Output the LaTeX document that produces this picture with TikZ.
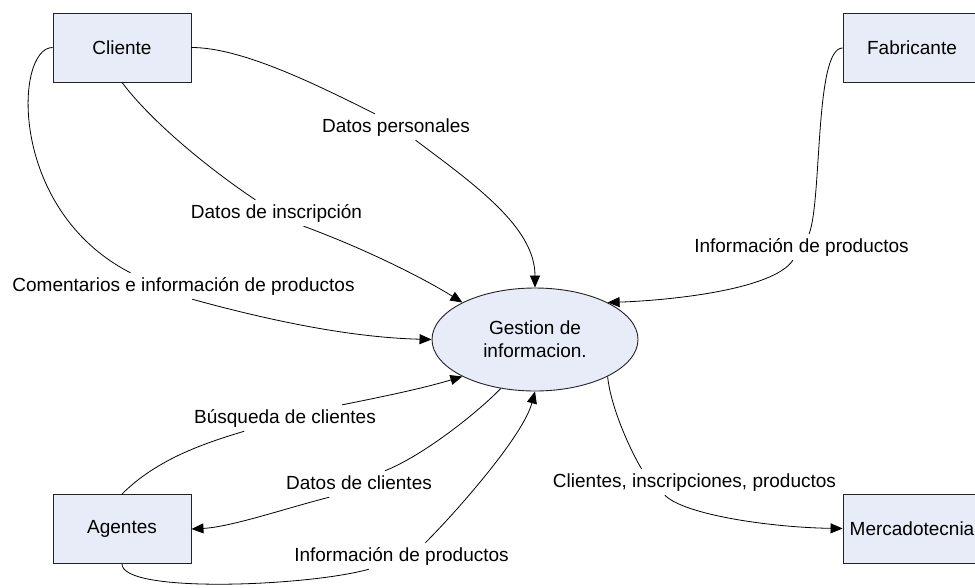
\documentclass[tikz,border=0pt]{standalone}
\usepackage{fontspec}
\setmainfont{Liberation Sans}
\usepackage{xcolor}
\usepackage{tikz}
\usetikzlibrary{shapes.geometric, arrows.meta}
\definecolor{paleblue}{RGB}{231, 236, 248}
\definecolor{darkline}{RGB}{35, 35, 35}

\begin{document}
\begin{tikzpicture}[
    x=1pt, y=-1pt,
    box/.style={rectangle, draw=darkline, fill=paleblue, line width=0.9pt, minimum width=138pt, minimum height=69pt, text centered, font=\fontsize{19}{23}\selectfont},
    process/.style={ellipse, draw=darkline, fill=paleblue, line width=0.9pt, minimum width=206pt, minimum height=103pt, inner sep=0pt, align=center, font=\fontsize{19}{23}\selectfont},
    flowlabel/.style={inner sep=4pt, text height=14pt, text depth=4pt, font=\fontsize{19}{23}\selectfont},
    line/.style={draw=black, line width=0.8pt},
    arrow/.style={line, -{Triangle[length=12pt, width=10pt]}}
]
\path[use as bounding box, clip] (0,0) rectangle (975,587);

% entities and process
\node[box] (cliente) at (122,47.5) {Cliente};
\node[box] (fabricante) at (912,48) {Fabricante};
\node[box] (agentes) at (122,529) {Agentes};
\node[box] (mercado) at (912,528.5) {Mercadotecnia};
\node[process] (gestion) at (535,339.5) {Gestion de\\informacion.};

% flow labels
\node[flowlabel] (lblpers) at (396,127) {Datos personales};
\node[flowlabel] (lblinsc) at (276.5,213) {Datos de inscripción};
\node[flowlabel] (lblcom) at (183.5,286) {Comentarios e información de productos};
\node[flowlabel] (lblfab) at (801.5,247) {Información de productos};
\node[flowlabel] (lblbus) at (285,418) {Búsqueda de clientes};
\node[flowlabel] (lbldcl) at (359,484) {Datos de clientes};
\node[flowlabel] (lblinfb) at (401.5,556) {Información de productos};
\node[flowlabel] (lblcip) at (694.5,482) {Clientes, inscripciones, productos};

% flows
\draw[line] (cliente.east) .. controls +(50,0) and +(-60,-30) .. (lblpers.148);
\draw[arrow] (lblpers.-34) .. controls +(60,45) and +(0,-60) .. (gestion.north);
\draw[line] (cliente.south) .. controls +(30,40) and +(-45,-30) .. (lblinsc.148);
\draw[arrow] (lblinsc.-26) .. controls +(60,22) and +(-40,-25) .. (gestion.153);
\draw[line] (cliente.west) .. controls +(-38,0) and +(-123,-63) .. (lblcom.166);
\draw[arrow] (lblcom.-57) .. controls +(80,22) and +(-80,-2) .. (gestion.west);
\draw[line] (fabricante.west) .. controls +(-28,0) and +(13,-34) .. (lblfab.60);
\draw[arrow] (lblfab.-123) .. controls +(-20,30) and +(60,-2) .. (gestion.27);
\draw[line] (agentes.north) .. controls +(35,-35) and +(-40,12) .. (lblbus.-162);
\draw[arrow] (lblbus.13) .. controls +(40,-8) and +(-40,12) .. (gestion.207);
\draw[line] (gestion.-125) .. controls +(-21,22) and +(40,-16) .. (lbldcl.27);
\draw[arrow] (lbldcl.-156) .. controls +(-40,10) and +(40,-2) .. (agentes.east);
\draw[line] (agentes.south) .. controls +(0,30) and +(-60,17) .. (lblinfb.-158);
\draw[arrow] (lblinfb.29) .. controls +(30,-30) and +(-12,45) .. (gestion.south);
\draw[line] (gestion.-27) .. controls +(3,30) and +(-12,-20) .. (lblcip.166);
\draw[arrow] (lblcip.-156) .. controls +(20,20) and +(-70,-1) .. (mercado.west);

\end{tikzpicture}
\end{document}
